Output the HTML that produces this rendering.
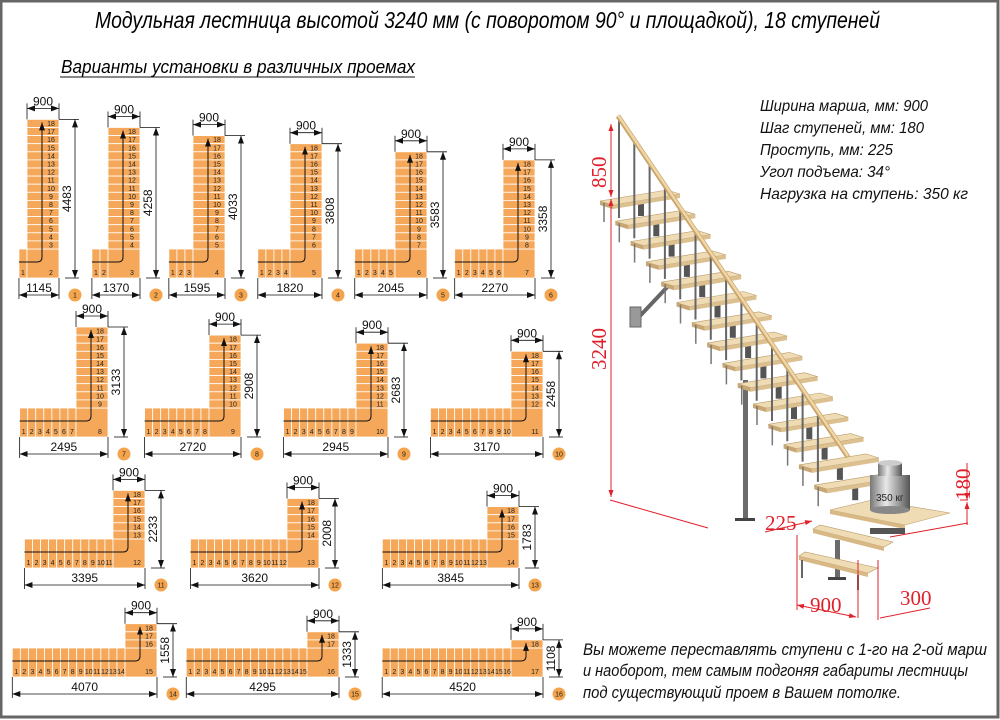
<!DOCTYPE html>
<html><head><meta charset="utf-8"><style>
html,body{margin:0;padding:0;background:#fff}
svg{display:block}
.t{font-family:"Liberation Sans Narrow","Liberation Sans",sans-serif;font-style:italic}
.n{font-family:"Liberation Sans Narrow","Liberation Sans",sans-serif;font-size:7px;fill:#222}
.d{font-family:"Liberation Sans Narrow","Liberation Sans",sans-serif;font-size:12px;fill:#111}
.r{font-family:"Liberation Serif",serif;font-size:21px;fill:#e0202a}
</style></head><body>
<svg id="s" width="1000" height="720" viewBox="0 0 1000 720" xmlns="http://www.w3.org/2000/svg">
<defs>
<marker id="a" markerWidth="8" markerHeight="6" refX="8" refY="3" orient="auto-start-reverse" markerUnits="userSpaceOnUse"><path d="M0,0L8,3L0,6z" fill="#111"/></marker>
<marker id="ra" markerWidth="7" markerHeight="5" refX="7" refY="2.5" orient="auto-start-reverse" markerUnits="userSpaceOnUse"><path d="M0,0L7,2.5L0,5z" fill="#e0202a"/></marker>
<linearGradient id="cyl" x1="0" x2="1"><stop offset="0" stop-color="#777"/><stop offset=".4" stop-color="#e8e8e8"/><stop offset="1" stop-color="#555"/></linearGradient>
</defs>
<rect x="1" y="1" width="997" height="716" fill="#fff" stroke="#666" stroke-width="3"/>
<text class="t" x="95" y="28" font-size="23" textLength="785" lengthAdjust="spacingAndGlyphs">Модульная лестница высотой 3240 мм (с поворотом 90° и площадкой), 18 ступеней</text>
<text class="t" x="61" y="73" font-size="18" textLength="354" lengthAdjust="spacingAndGlyphs">Варианты установки в различных проемах</text>
<line x1="60" y1="77" x2="415" y2="77" stroke="#111" stroke-width="1"/>
<g class="t" font-size="16" fill="#111">
<text x="760" y="111" textLength="168" lengthAdjust="spacingAndGlyphs">Ширина марша, мм: 900</text>
<text x="760" y="133" textLength="164" lengthAdjust="spacingAndGlyphs">Шаг ступеней, мм: 180</text>
<text x="760" y="155" textLength="133" lengthAdjust="spacingAndGlyphs">Проступь, мм: 225</text>
<text x="760" y="177" textLength="130" lengthAdjust="spacingAndGlyphs">Угол подъема: 34°</text>
<text x="760" y="199" textLength="208" lengthAdjust="spacingAndGlyphs">Нагрузка на ступень: 350 кг</text>
</g>
<g class="t" font-size="17" fill="#111">
<text x="583" y="655" textLength="404" lengthAdjust="spacingAndGlyphs">Вы можете переставлять ступени с 1-го на 2-ой марш</text>
<text x="583" y="676" textLength="385" lengthAdjust="spacingAndGlyphs">и наоборот, тем самым подгоняя габариты лестницы</text>
<text x="583" y="698" textLength="318" lengthAdjust="spacingAndGlyphs">под существующий проем в Вашем потолке.</text>
</g>
<g id="st"></g>
<g id="dg"></g>
<g stroke="#e0202a" stroke-width="1" fill="none">
<line x1="611" y1="124" x2="611" y2="197" marker-start="url(#ra)" marker-end="url(#ra)"/>
<line x1="611" y1="199" x2="611" y2="497" marker-start="url(#ra)" marker-end="url(#ra)"/>
<line x1="610" y1="500" x2="708" y2="528"/>
<line x1="765" y1="532" x2="812" y2="521" marker-end="url(#ra)"/>
<line x1="967" y1="463" x2="967" y2="500" marker-end="url(#ra)"/>
<line x1="967" y1="502" x2="967" y2="525" marker-start="url(#ra)"/>
<line x1="960" y1="500" x2="968" y2="500"/>
<line x1="890" y1="537" x2="968" y2="523"/>
<line x1="797" y1="535" x2="797" y2="610"/>
<line x1="858" y1="560" x2="858" y2="618"/>
<line x1="878" y1="560" x2="878" y2="620"/>
<line x1="797" y1="605" x2="856" y2="617" marker-start="url(#ra)" marker-end="url(#ra)"/>
<line x1="880" y1="618" x2="930" y2="608"/>
</g>
<text class="r" transform="translate(606,188) rotate(-90)">850</text>
<text class="r" transform="translate(606,370) rotate(-90)" font-size="22">3240</text>
<text class="r" x="765" y="530">225</text>
<text class="r" transform="translate(970,500) rotate(-90)">180</text>
<text class="r" x="810" y="612">900</text>
<text class="r" x="900" y="605">300</text>
</svg>
<script>
var NS="http://www.w3.org/2000/svg";
function el(p,t,a,txt){var e=document.createElementNS(NS,t);for(var k in a)e.setAttribute(k,a[k]);if(txt!==undefined)e.textContent=txt;p.appendChild(e);return e;}
var dg=document.getElementById('dg');
var V=[[1,27,278],[2,108,278],[3,193,278],[4,290,278],[5,395,278],[6,503,278],
[7,76,437],[8,209,437],[9,356,437],[10,511,437],
[11,113,568],[12,287,568],[13,487,568],
[14,125,677],[15,307,677],[16,511,677]];
var S=8.05,T=8.1,W=32,LH=29,OR="#f5a85a";
V.forEach(function(v){
 var n=v[0],cx=v[1],by=v[2];
 var up=17-n, top=by-LH-up*T, lx=cx-n*S, g=dg;
 for(var i=1;i<=n;i++){var x=lx+(i-1)*S;el(g,'rect',{x:x,y:by-LH,width:S,height:LH,fill:OR,stroke:'#fff','stroke-width':0.8});
  el(g,'text',{class:'n',x:x+S/2,y:by-3,'text-anchor':'middle'},String(i));}
 el(g,'rect',{x:cx,y:by-LH,width:W,height:LH,fill:OR,stroke:'#fff','stroke-width':0.8});
 el(g,'text',{class:'n',x:cx+W-8,y:by-3,'text-anchor':'middle'},String(n+1));
 for(var j=0;j<up;j++){var y=top+j*T;el(g,'rect',{x:cx,y:y,width:W,height:T,fill:OR,stroke:'#fff','stroke-width':0.8});
  el(g,'text',{class:'n',x:cx+W-8,y:y+T-1.5,'text-anchor':'middle'},String(18-j));}
 var px=cx+15,py=by-16;
 el(g,'path',{d:'M'+(lx)+','+py+'L'+(px-5)+','+py+'Q'+px+','+py+' '+px+','+(py-5)+'L'+px+','+(top+3),fill:'none',stroke:'#111','stroke-width':1,'marker-end':'url(#a)'});
 el(g,'line',{x1:cx,y1:top,x2:cx,y2:top-16,stroke:'#111','stroke-width':0.8});
 el(g,'line',{x1:cx+W,y1:top,x2:cx+W,y2:top-16,stroke:'#111','stroke-width':0.8});
 el(g,'line',{x1:cx,y1:top-11,x2:cx+W,y2:top-11,stroke:'#111','stroke-width':0.8,'marker-start':'url(#a)','marker-end':'url(#a)'});
 el(g,'text',{class:'d',x:cx+W/2,y:top-14,'text-anchor':'middle'},'900');
 var rx=cx+W+16;
 el(g,'line',{x1:cx+W,y1:top,x2:rx+4,y2:top,stroke:'#111','stroke-width':0.8});
 el(g,'line',{x1:rx,y1:top,x2:rx,y2:by,stroke:'#111','stroke-width':0.8,'marker-start':'url(#a)','marker-end':'url(#a)'});
 el(g,'text',{class:'d',transform:'translate('+(rx-4)+','+((top+by)/2)+') rotate(-90)','text-anchor':'middle'},String(4483-225*(n-1)));
 var dy=by+17;
 el(g,'line',{x1:lx,y1:by,x2:lx,y2:dy+4,stroke:'#111','stroke-width':0.8});
 el(g,'line',{x1:cx+W,y1:by,x2:cx+W,y2:dy+4,stroke:'#111','stroke-width':0.8});
 el(g,'line',{x1:rx-10,y1:by,x2:rx+4,y2:by,stroke:'#111','stroke-width':0.8});
 el(g,'line',{x1:lx,y1:dy,x2:cx+W,y2:dy,stroke:'#111','stroke-width':0.8,'marker-start':'url(#a)','marker-end':'url(#a)'});
 el(g,'text',{class:'d',x:(lx+cx+W)/2,y:dy-3,'text-anchor':'middle'},String(1145+225*(n-1)));
 el(g,'circle',{cx:rx,cy:dy,r:6.5,fill:'#f4a44c'});
 el(g,'text',{class:'n',x:rx,y:dy+2.5,'text-anchor':'middle','font-size':'8'},String(n));
});
var st=document.getElementById('st');
el(st,'line',{x1:638,y1:318,x2:672,y2:282,stroke:'#666','stroke-width':4});
el(st,'rect',{x:630,y:307,width:11,height:20,fill:'#999',stroke:'#666'});
el(st,'rect',{x:743,y:380,width:5,height:140,fill:'#6b6b6b'});
el(st,'rect',{x:735,y:518,width:20,height:3,fill:'#444'});
el(st,'rect',{x:835,y:540,width:5,height:40,fill:'#6b6b6b'});
el(st,'rect',{x:828,y:577,width:18,height:3,fill:'#444'});
for(var k=0;k<15;k++){
 var L=600+15.3*k,y=200+20.3*k;
 el(st,'rect',{x:L+38,y:y+2,width:6,height:14,fill:'#555'});
 el(st,'polygon',{points:[L,y+1,L+67,y-10,L+80,y-6,L+13,y+5].join(','),fill:'#f0dcb4',stroke:'#b99b6a','stroke-width':0.6});
 el(st,'polygon',{points:[L,y+1,L+13,y+5,L+13,y+9,L,y+5].join(','),fill:'#c9a774'});
 el(st,'polygon',{points:[L+13,y+5,L+80,y-6,L+80,y-2,L+13,y+9].join(','),fill:'#dcc090'});
 var bx=L+19, ry=118+(bx-620)*1.485;
 if(k<14) el(st,'line',{x1:bx,y1:ry,x2:bx,y2:y+18,stroke:'#666','stroke-width':2});
 var bx2=L+4; el(st,'line',{x1:bx2,y1:y+3,x2:bx2,y2:y+22,stroke:'#777','stroke-width':1.5});
}
el(st,'polygon',{points:'830,510 872,500 950,513 905,525',fill:'#f0dcb4',stroke:'#b99b6a','stroke-width':0.6});
el(st,'polygon',{points:'830,510 905,525 905,529 830,514',fill:'#d8b985'});
el(st,'rect',{x:870,y:528,width:35,height:6,fill:'#555'});
el(st,'polygon',{points:'813,529 820,525 893,542 884,547',fill:'#f0dcb4',stroke:'#b99b6a','stroke-width':0.6});
el(st,'polygon',{points:'813,529 884,547 884,551 813,533',fill:'#d8b985'});
el(st,'polygon',{points:'799,556 805,552 878,568 868,573',fill:'#f0dcb4',stroke:'#b99b6a','stroke-width':0.6});
el(st,'polygon',{points:'799,556 868,573 868,577 799,560',fill:'#d8b985'});
el(st,'line',{x1:802,y1:560,x2:802,y2:578,stroke:'#666','stroke-width':2});
el(st,'line',{x1:858,y1:575,x2:858,y2:590,stroke:'#666','stroke-width':2});
el(st,'rect',{x:870,y:475,width:40,height:35,fill:'url(#cyl)'});
el(st,'ellipse',{cx:890,cy:510,rx:20,ry:4,fill:'#888'});
el(st,'rect',{x:878,y:463,width:24,height:13,fill:'url(#cyl)'});
el(st,'ellipse',{cx:890,cy:463,rx:12,ry:3,fill:'#ccc'});
el(st,'text',{x:876,y:501,'font-family':'Liberation Sans Narrow,Liberation Sans,sans-serif','font-size':'10',fill:'#222'},'350 кг');
el(st,'line',{x1:618,y1:116,x2:848,y2:457,stroke:'#c9a56d','stroke-width':5});
el(st,'line',{x1:618,y1:115,x2:848,y2:456,stroke:'#f0d6a6','stroke-width':2.5});
</script>
</body></html>
